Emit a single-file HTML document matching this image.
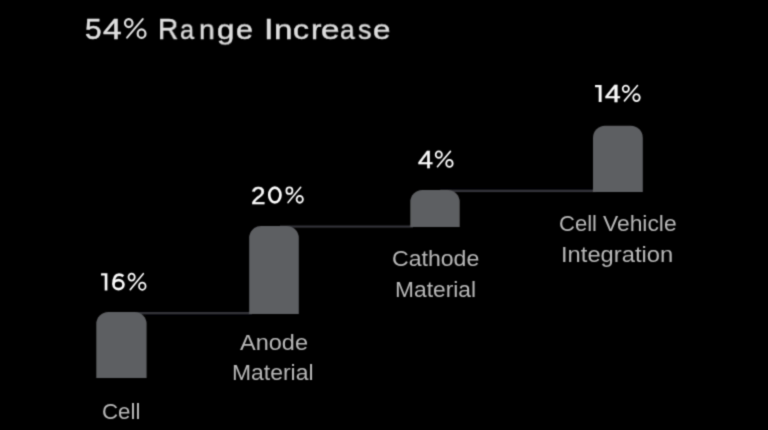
<!DOCTYPE html>
<html><head><meta charset="utf-8">
<style>
html,body{margin:0;padding:0;background:#000;width:768px;height:430px;overflow:hidden;position:relative;}
body{font-family:"Liberation Sans",sans-serif;}
.t{position:absolute;white-space:nowrap;line-height:1;transform-origin:0 0;will-change:transform;}
.title{color:#dedede;-webkit-text-stroke:0.5px #dedede;}
.pct{color:#fafafa;-webkit-text-stroke:0.4px #fafafa;}
.lab{color:#b8b8b8;-webkit-text-stroke:0px #b8b8b8;}
#w{position:absolute;left:0;top:0;width:768px;height:430px;filter:url(#fb);}
</style></head><body><svg width="0" height="0" style="position:absolute"><filter id="fb" x="0" y="0" width="768" height="430" filterUnits="userSpaceOnUse"><feConvolveMatrix order="3" kernelMatrix="0.02768 0.11101 0.02768 0.11101 0.44521 0.11101 0.02768 0.11101 0.02768" edgeMode="none"/></filter></svg><div id="w">
<svg width="768" height="430" viewBox="0 0 768 430" style="position:absolute;left:0;top:0"><rect x="125" y="312.0" width="127" height="2.40" fill="#303338"/><rect x="280" y="225.5" width="133" height="2.10" fill="#303338"/><rect x="440" y="189.6" width="156" height="2.50" fill="#303338"/><path d="M96.30 378.10V323.90A12 12 0 0 1 108.30 311.90H134.60A12 12 0 0 1 146.60 323.90V378.10Z" fill="#5d5e62"/><path d="M249.20 313.90V237.90A12 12 0 0 1 261.20 225.90H286.80A12 12 0 0 1 298.80 237.90V313.90Z" fill="#5d5e62"/><path d="M410.30 227.10V201.95A12 12 0 0 1 422.30 189.95H447.70A12 12 0 0 1 459.70 201.95V227.10Z" fill="#5d5e62"/><path d="M593.00 192.10V137.70A12 12 0 0 1 605.00 125.70H630.80A12 12 0 0 1 642.80 137.70V192.10Z" fill="#5d5e62"/><path d="M101.0 273.7Q101.0 273.3 101.5 273.3H107.4V290.6H104.7V275.6H101.5Q101.0 275.6 101.0 275.20000000000005Z" fill="#fafafa"/><path d="M595.0 85.30000000000001Q595.0 84.9 595.5 84.9H601.6V102.0H598.7V87.2H595.5Q595.0 87.2 595.0 86.8Z" fill="#fafafa"/><g fill="none" stroke="#dedede"><ellipse cx="128.74" cy="23.04" rx="3.75" ry="3.99" stroke-width="2.2"/><ellipse cx="141.56" cy="33.64" rx="3.90" ry="4.20" stroke-width="2.2"/><line x1="127.08" y1="37.63" x2="142.74" y2="19.05" stroke-width="2.0" stroke-linecap="round"/></g><g fill="none" stroke="#fafafa"><ellipse cx="131.63" cy="277.12" rx="3.12" ry="3.42" stroke-width="1.8"/><ellipse cx="142.30" cy="286.21" rx="3.25" ry="3.60" stroke-width="1.8"/><line x1="130.25" y1="289.63" x2="143.29" y2="273.70" stroke-width="1.6" stroke-linecap="round"/></g><g fill="none" stroke="#fafafa"><ellipse cx="289.40" cy="190.63" rx="3.02" ry="3.27" stroke-width="1.8"/><ellipse cx="299.74" cy="199.31" rx="3.15" ry="3.44" stroke-width="1.8"/><line x1="288.06" y1="202.58" x2="300.69" y2="187.36" stroke-width="1.6" stroke-linecap="round"/></g><g fill="none" stroke="#fafafa"><ellipse cx="438.80" cy="154.65" rx="3.10" ry="3.29" stroke-width="1.8"/><ellipse cx="449.43" cy="163.39" rx="3.23" ry="3.46" stroke-width="1.8"/><line x1="437.43" y1="166.68" x2="450.40" y2="151.37" stroke-width="1.6" stroke-linecap="round"/></g><g fill="none" stroke="#fafafa"><ellipse cx="625.83" cy="88.85" rx="3.12" ry="3.29" stroke-width="1.8"/><ellipse cx="636.50" cy="97.59" rx="3.25" ry="3.46" stroke-width="1.8"/><line x1="624.45" y1="100.88" x2="637.49" y2="85.56" stroke-width="1.6" stroke-linecap="round"/></g><g fill="none" stroke="#fafafa" stroke-width="2.6" stroke-linecap="butt"><ellipse cx="118.5" cy="284.6" rx="5.0" ry="4.5"/><path d="M123.3 276.2Q121.6 274.6 119 274.6C115.5 274.6 113.5 278 113.5 284.6"/></g><ellipse cx="274.85" cy="195.0" rx="5.6" ry="7.4" fill="none" stroke="#fafafa" stroke-width="2.7"/></svg>
<div class="t title" style="left:84.83px;top:15px;font-size:29px;transform:scaleX(1.0282)">5</div>
<div class="t title" style="left:102.60px;top:15px;font-size:29px;transform:scaleX(1.1514)">4</div>
<div class="t title" style="left:158.36px;top:15px;font-size:29px;transform:scaleX(0.9646)">R</div>
<div class="t title" style="left:180.33px;top:15px;font-size:29px;transform-origin:0 24px;transform:scale(0.8753,0.92)">a</div>
<div class="t title" style="left:199.16px;top:15px;font-size:29px;transform-origin:0 24px;transform:scale(0.9690,0.92)">n</div>
<div class="t title" style="left:216.73px;top:15px;font-size:29px;transform-origin:0 24px;transform:scale(1.0754,0.92)">g</div>
<div class="t title" style="left:236.43px;top:15px;font-size:29px;transform-origin:0 24px;transform:scale(1.0532,0.92)">e</div>
<div class="t title" style="left:263.66px;top:15px;font-size:29px;transform:scaleX(1.1695)">I</div>
<div class="t title" style="left:273.58px;top:15px;font-size:29px;transform-origin:0 24px;transform:scale(1.1445,0.92)">n</div>
<div class="t title" style="left:292.89px;top:15px;font-size:29px;transform-origin:0 24px;transform:scale(1.1036,0.92)">c</div>
<div class="t title" style="left:310.60px;top:15px;font-size:29px;transform-origin:0 24px;transform:scale(1.0838,0.92)">r</div>
<div class="t title" style="left:321.02px;top:15px;font-size:29px;transform-origin:0 24px;transform:scale(1.1464,0.92)">e</div>
<div class="t title" style="left:340.09px;top:15px;font-size:29px;transform-origin:0 24px;transform:scale(0.9077,0.92)">a</div>
<div class="t title" style="left:357.76px;top:15px;font-size:29px;transform-origin:0 24px;transform:scale(0.9326,0.92)">s</div>
<div class="t title" style="left:373.20px;top:15px;font-size:29px;transform-origin:0 24px;transform:scale(1.0819,0.92)">e</div>
<div class="t pct" style="left:250.75px;top:184px;font-size:24.5px;transform:scaleX(1.0646)">2</div>
<div class="t pct" style="left:417.64px;top:148px;font-size:24.5px;transform:scaleX(1.1006)">4</div>
<div class="t pct" style="left:604.62px;top:82px;font-size:24.5px;transform:scaleX(1.1549)">4</div>
<div class="t lab" style="left:101.75px;top:401px;font-size:22px;transform:scaleX(1.0129)">Cell</div>
<div class="t lab" style="left:239.67px;top:332px;font-size:22px;transform:scaleX(1.0687)">Anode</div>
<div class="t lab" style="left:232.37px;top:362px;font-size:22px;transform:scaleX(1.0419)">Material</div>
<div class="t lab" style="left:391.51px;top:248px;font-size:22px;transform:scaleX(1.0494)">Cathode</div>
<div class="t lab" style="left:394.78px;top:279px;font-size:22px;transform:scaleX(1.0353)">Material</div>
<div class="t lab" style="left:558.86px;top:213px;font-size:22px;transform:scaleX(1.0016)">Cell</div>
<div class="t lab" style="left:602.73px;top:213px;font-size:22px;transform:scaleX(1.0376)">Vehicle</div>
<div class="t lab" style="left:561.21px;top:244px;font-size:22px;transform:scaleX(1.0786)">Integration</div>
</div></body></html>
